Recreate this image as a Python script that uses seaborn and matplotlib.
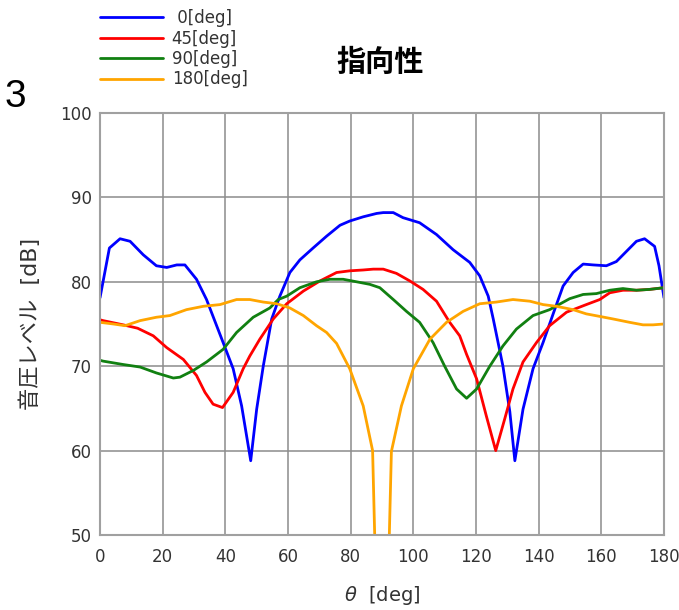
import pandas as pd
import seaborn as sns
import matplotlib.pyplot as plt

# angle [deg] / level [dB], one pair of lists per series
ang0 = [0, 3, 6.4, 9.6, 13.8, 18, 21.3, 24.5, 27.1, 30.8, 34, 39.3, 42.5, 45.2, 48.1, 50, 52.1, 54.8, 57.4,
        60.6, 63.8, 68, 72.3, 76.6, 79.7, 84, 88.3, 90.4, 93.6, 96.7, 102, 107.4, 112.7, 118, 121.2, 123.9,
        125.5, 128.6, 130.8, 132.4, 135, 138.2, 141.4, 145.1, 147.8, 151, 154.2, 157.4, 161.6, 164.8, 168,
        171.2, 173.8, 177, 178.4, 180]
val0 = [78.1, 84.0, 85.1, 84.8, 83.2, 81.9, 81.7, 82.0, 82.0, 80.3, 77.9, 72.8, 69.7, 65.3, 58.8, 64.9, 70.0,
        75.6, 78.3, 81.1, 82.6, 84.0, 85.4, 86.7, 87.2, 87.7, 88.1, 88.2, 88.2, 87.6, 87.0, 85.6, 83.8, 82.3,
        80.7, 78.3, 75.6, 70.0, 64.6, 58.8, 64.9, 69.7, 72.8, 76.7, 79.5, 81.1, 82.1, 82.0, 81.9, 82.4, 83.6,
        84.8, 85.1, 84.2, 81.9, 78.1]

ang45 = [0, 1, 7.4, 12, 17, 21.3, 26.6, 30.8, 33.5, 36.1, 39.1, 42.5, 45.7, 47.8, 51, 55.3, 59.6, 64.9, 70.2,
         75.5, 79.7, 84, 87.2, 90.4, 94.6, 98.9, 103.1, 107.4, 111.6, 114.8, 117, 120.2, 123.3, 126.3, 129.2,
         131.8, 135, 139.3, 143.5, 148.9, 155.2, 159.5, 162.7, 166.9, 171.2, 175.4, 180]
val45 = [75.5, 75.4, 74.9, 74.5, 73.6, 72.2, 70.8, 68.9, 66.9, 65.5, 65.1, 66.9, 69.7, 71.2, 73.2, 75.6, 77.4,
         78.9, 80.1, 81.1, 81.3, 81.4, 81.5, 81.5, 81.0, 80.1, 79.1, 77.7, 75.2, 73.6, 71.4, 68.5, 64.1, 60.0,
         63.8, 67.3, 70.5, 72.8, 74.8, 76.4, 77.3, 77.9, 78.7, 79.0, 79.0, 79.1, 79.3]

ang90 = [0, 1, 7.4, 12.8, 18, 23.4, 25.5, 29.8, 34, 39.3, 43.6, 48.9, 54.2, 56.9, 59.6, 63.8, 69.1, 73.4, 77.6,
         81.9, 86.1, 89.3, 93.6, 97.8, 102, 106.3, 110, 113.8, 117, 120.2, 124.4, 128.6, 132.9, 138.2, 143.5,
         149.9, 154.2, 158.4, 162.7, 166.9, 171.2, 175.4, 180]
val90 = [70.7, 70.6, 70.2, 69.9, 69.2, 68.6, 68.7, 69.5, 70.5, 72.0, 74.0, 75.8, 76.9, 77.9, 78.3, 79.3, 80.0,
         80.3, 80.3, 80.0, 79.7, 79.3, 77.9, 76.5, 75.2, 72.8, 70.0, 67.3, 66.2, 67.3, 70.0, 72.4, 74.4, 76.0,
         76.7, 78.0, 78.5, 78.6, 79.0, 79.2, 79.0, 79.1, 79.3]

ang180 = [0, 4.3, 8, 12.8, 18, 22.3, 27.6, 33, 38.3, 43.6, 47.8, 52.1, 56.4, 60.6, 64.9, 69.1, 72.3, 75.5, 79.7,
          84, 87, 88, 90, 92, 93, 96.2, 100, 105.3, 110.6, 115.9, 121.2, 126.5, 131.8, 137.2, 141.4, 145.6, 151,
          155.2, 159.5, 163.7, 169, 173.3, 176.5, 180]
val180 = [75.2, 75.0, 74.8, 75.4, 75.8, 76.0, 76.7, 77.1, 77.3, 77.9, 77.9, 77.6, 77.4, 76.9, 76.0, 74.8, 74.0,
          72.7, 69.7, 65.3, 60.0, 45.0, 40.0, 45.0, 59.9, 65.3, 69.7, 73.2, 75.2, 76.5, 77.4, 77.6, 77.9, 77.7,
          77.3, 77.1, 76.7, 76.2, 75.9, 75.6, 75.2, 74.9, 74.9, 75.0]

labels = [' 0[deg]', '45[deg]', '90[deg]', '180[deg]']
colors = ['#0000ff', '#ff0000', '#118011', '#ffa500']

frames = []
for lab, a, v in zip(labels, [ang0, ang45, ang90, ang180], [val0, val45, val90, val180]):
    frames.append(pd.DataFrame({'theta': a, 'level': v, 'series': lab}))
df = pd.concat(frames, ignore_index=True)

sns.set_style("white")
plt.rcParams['font.family'] = ['DejaVu Sans', 'Noto Sans CJK JP']

fig = plt.figure(figsize=(6.79, 6.10), dpi=100)
ax = fig.add_axes([100/679, 1-535/610, 564/679, 422/610])

sns.lineplot(data=df, x='theta', y='level', hue='series', hue_order=labels,
             palette=dict(zip(labels, colors)), estimator=None, sort=True,
             linewidth=2.0, ax=ax)

ax.set_xlim(0, 180)
ax.set_ylim(50, 100)
ax.set_xticks(range(0, 181, 20))
ax.set_yticks(range(50, 101, 10))
ax.grid(True, color='#8c8c8c', linewidth=1.1)
for s in ax.spines.values():
    s.set_color('#a0a0a0')
    s.set_linewidth(1.5)
ax.tick_params(length=0, labelsize=12, labelcolor='#333333')
ax.tick_params(axis='x', pad=9)
ax.tick_params(axis='y', pad=6)

ax.set_xlabel(r'$\theta$  [deg]', fontsize=14, color='#333333', labelpad=13)
ax.set_ylabel('音圧レベル  [dB]', fontsize=16, color='#333333', labelpad=14)

fig.text(380/679, 1-62/610, '指向性', fontsize=21, fontweight='bold', ha='center', va='center',
         family=['Noto Sans CJK JP'], color='black')
fig.text(5/679, 1-97/610, '3', fontsize=28, ha='left', va='center', family=['Liberation Sans'],
         color='black')

ax.legend(loc='upper left', bbox_to_anchor=(100/679, 1-9/610), bbox_transform=fig.transFigure,
          frameon=False, fontsize=12, handlelength=3.8, handletextpad=0.5, labelspacing=0.15,
          borderpad=0, borderaxespad=0, labelcolor='#333333')

fig.savefig('out.png', dpi=100)
